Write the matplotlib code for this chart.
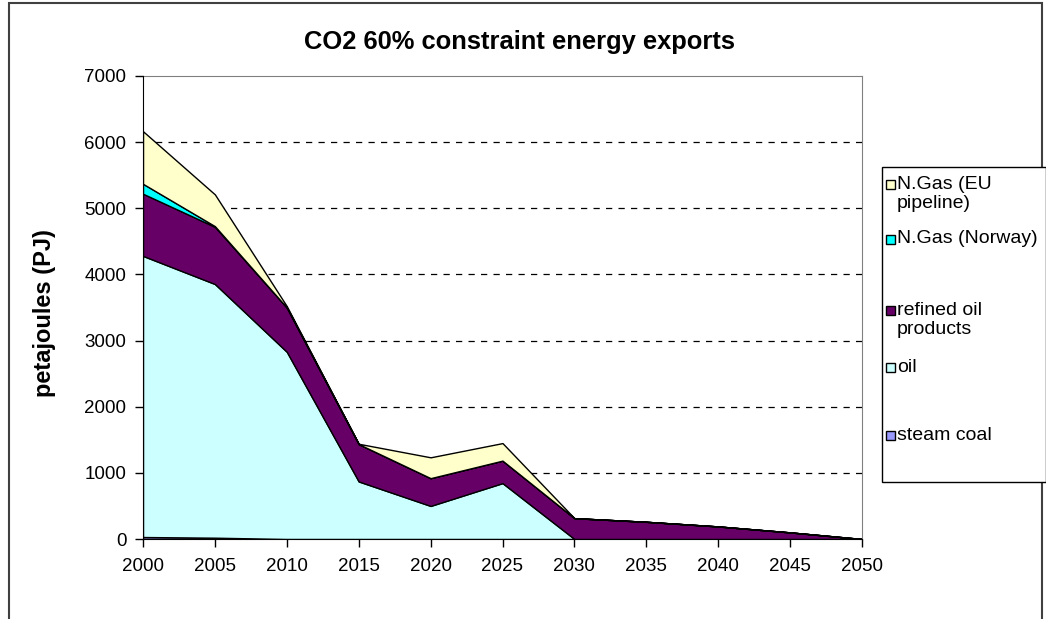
import matplotlib
matplotlib.use("Agg")
import matplotlib.pyplot as plt
from matplotlib.patches import Rectangle

plt.rcParams['font.family'] = ['Liberation Sans', 'DejaVu Sans']

years = [2000, 2005, 2010, 2015, 2020, 2025, 2030, 2035, 2040, 2045, 2050]
steam_coal = [30, 20, 0, 0, 0, 0, 0, 0, 0, 0, 0]
oil = [4250, 3835, 2830, 870, 500, 845, 0, 0, 0, 0, 0]
refined = [940, 865, 670, 565, 420, 340, 315, 260, 190, 100, 0]
norway = [150, 10, 0, 0, 0, 0, 0, 0, 0, 0, 0]
eu_pipeline = [795, 480, 20, 5, 315, 265, 0, 0, 0, 0, 0]

series = [steam_coal, oil, refined, norway, eu_pipeline]
colors = ['#9999FF', '#CCFFFF', '#660066', '#00FFFF', '#FFFFCC']
# legend order top to bottom, with wrapped labels as in the original
legend_labels = ['N.Gas (EU\npipeline)', 'N.Gas (Norway)', 'refined oil\nproducts', 'oil', 'steam coal']
legend_colors = ['#FFFFCC', '#00FFFF', '#660066', '#CCFFFF', '#9999FF']
legend_y = [194, 239, 320, 367, 435]

W, H = 1046, 619
fig = plt.figure(figsize=(W / 100, H / 100), dpi=100)
ax = fig.add_axes([143 / W, (H - 539) / H, (862 - 143) / W, (539 - 76) / H])

ax.stackplot(years, *series, colors=colors, edgecolor='black', linewidth=1.0, zorder=2)

ax.set_xlim(2000, 2050)
ax.set_ylim(0, 7000)
ax.set_xticks(years)
ax.set_yticks(range(0, 7001, 1000))
ax.tick_params(axis='both', direction='out', length=6, width=1, labelsize=13.5, pad=6)
ax.tick_params(axis='x', pad=8)

for y in range(1000, 7000, 1000):
    ax.axhline(y, color='black', linestyle=(0, (5, 5)), linewidth=0.9, zorder=1)

for s in ['top', 'right']:
    ax.spines[s].set_color('#808080')
for s in ['left', 'bottom']:
    ax.spines[s].set_color('black')
    ax.spines[s].set_zorder(3)

fig.text(45 / W, 1 - 313 / H, 'petajoules (PJ)', rotation=90, ha='center', va='center',
         fontsize=17, fontweight='bold')
fig.text(520 / W, 1 - 42 / H, 'CO2 60% constraint energy exports', ha='center', va='center',
         fontsize=18.4, fontweight='bold')

# outer chart border
fig.patches.append(Rectangle((9 / W, -0.05), (1042 - 9) / W, 1 - 3 / H + 0.05,
                             transform=fig.transFigure, fill=False, edgecolor='#404040', linewidth=1.5))

# legend box
fig.patches.append(Rectangle((882 / W, 1 - 482 / H), (1046 - 882) / W, (482 - 167) / H,
                             transform=fig.transFigure, facecolor='white', edgecolor='black', linewidth=1.0))
for lab, col, yy in zip(legend_labels, legend_colors, legend_y):
    first_line_y = yy - (10 if '\n' in lab else 0)
    fig.patches.append(Rectangle((886 / W, 1 - (first_line_y + 4.5) / H), 9 / W, 9 / H,
                                 transform=fig.transFigure, facecolor=col, edgecolor='black', linewidth=1.0))
    fig.text(897 / W, 1 - yy / H, lab, ha='left', va='center', fontsize=14, linespacing=1.1)

fig.savefig('out.png', dpi=100)
